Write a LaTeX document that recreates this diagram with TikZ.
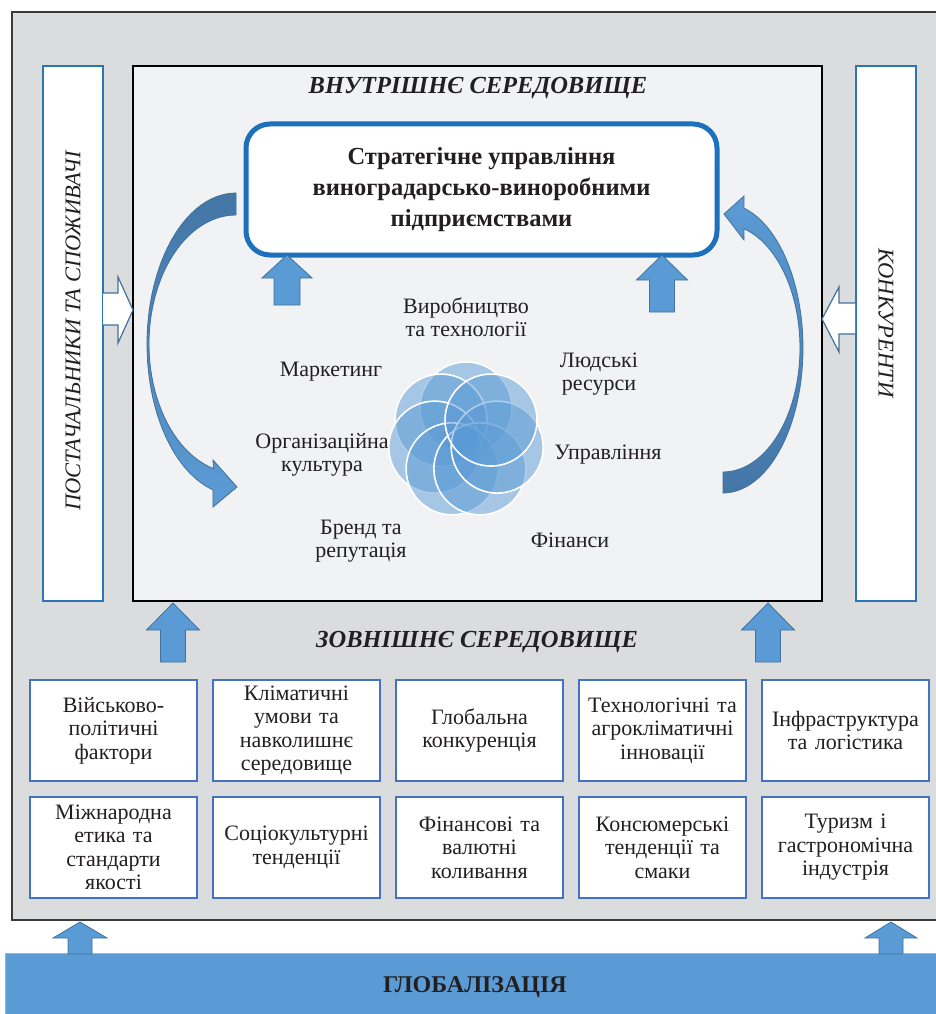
\documentclass[tikz,border=0pt]{standalone}
\usepackage{fontspec}
\setmainfont{Liberation Serif}
\usetikzlibrary{positioning,calc}

\definecolor{outergrey}{HTML}{DBDCDE}
\definecolor{innergrey}{HTML}{F1F2F4}
\definecolor{framegrey}{HTML}{3A3A3A}
\definecolor{arrowblue}{HTML}{5B9BD5}
\definecolor{arrowedge}{HTML}{41719C}
\definecolor{curvedark}{HTML}{4476A6}
\definecolor{sideblue}{HTML}{2E75B6}
\definecolor{factorblue}{HTML}{4472C4}
\definecolor{stratblue}{HTML}{1C70BC}
\definecolor{inkblack}{HTML}{231F20}

\tikzset{
  factor/.style={draw=factorblue, line width=1.2pt, fill=white, minimum width=167pt,
    minimum height=101pt, text width=164pt, align=center, inner sep=0pt,
    font=\fontsize{22}{23.5}\selectfont, text=inkblack},
  sidebox/.style={draw=sideblue, line width=1.2pt, fill=white, minimum width=60pt,
    minimum height=535pt, inner sep=0pt},
  stratbox/.style={draw=stratblue, line width=5pt, fill=white, rounded corners=24pt,
    minimum width=471pt, minimum height=131pt, align=center, text=inkblack,
    font=\bfseries\fontsize{24.5}{31}\selectfont},
  blockarrow/.style={fill=arrowblue, draw=arrowedge, line width=0.8pt},
  hollowarrow/.style={fill=white, draw=arrowedge, line width=1.2pt},
  curvearrow/.style={draw=arrowedge, line width=0.8pt},
  petal/.style={fill=arrowblue, fill opacity=0.5, draw=white, line width=1.6pt},
  area/.style={font=\fontsize{22}{23.5}\selectfont, align=center, text=inkblack},
  heading/.style={font=\bfseries\itshape\fontsize{24.5}{28}\selectfont, text=inkblack},
  sidetext/.style={font=\itshape\fontsize{22.5}{26}\selectfont, text=inkblack}
}

%% block arrow pointing up: x, tip y, bottom y, shaft half width, head half width, head base y
\newcommand{\blockup}[6]{%
  \draw[blockarrow] (#1,#2) -- (#1+#5,#6) -- (#1+#4,#6) -- (#1+#4,#3)
    -- (#1-#4,#3) -- (#1-#4,#6) -- (#1-#5,#6) -- cycle;}

\begin{document}
\begin{tikzpicture}[x=1pt,y=-1pt]
  \useasboundingbox (0,0) rectangle (935,1014);

  %% external environment frame
  \draw[fill=outergrey, draw=framegrey, line width=1.5pt] (12,12) rectangle (960,920);

  \node[sidebox] (supp) at (73,333.5) {};
  \node[sidebox] (comp) at (886,333.5) {};
  \node[sidetext, rotate=90] (supptext) at (73,331) {ПОСТАЧАЛЬНИКИ ТА СПОЖИВАЧІ};
  \node[sidetext, rotate=-90] (comptext) at (886,323) {КОНКУРЕНТИ};

  %% internal environment
  \node[draw=black, fill=innergrey, line width=1.5pt, minimum width=689pt,
    minimum height=535pt, inner sep=0pt] (inner) at (477.5,333.5) {};
  \node[heading] (intitle) at (478,88) {ВНУТРІШНЄ СЕРЕДОВИЩЕ};

  %% hollow arrows from the side boxes
  \draw[hollowarrow] (103,293) -- (118,293) -- (118,277) -- (133,310)
    -- (118,343) -- (118,325) -- (103,325);
  \draw[hollowarrow] (855,303) -- (839,303) -- (839,287) -- (822,319)
    -- (839,352) -- (839,334) -- (855,334);

  \node[stratbox] (strat) at (481.5,189.5)
    {Стратегічне управління\\виноградарсько-виноробними\\підприємствами};

  \blockup{287}{255}{305}{13}{25}{278}
  \blockup{662}{255}{312}{12.5}{25.5}{280}

  %% curved arrows round the flower
  \draw[curvearrow, top color=curvedark, bottom color=arrowblue]
    plot[domain=-90:-255, samples=50] ({236+89*cos(\x)},{344+151*sin(\x)})
    -- (213,507) -- (237,487) -- (213,460)
    -- plot[domain=-255:-90, samples=50] ({236+87*cos(\x)},{344+129*sin(\x)}) -- cycle;
  \draw[curvearrow, top color=arrowblue, bottom color=curvedark]
    plot[domain=90:-74.8, samples=50] ({723+80*cos(\x)},{348+145*sin(\x)})
    -- (744,196) -- (724,214) -- (744,240)
    -- plot[domain=-74.2:90, samples=50] ({723+77*cos(\x)},{348+124*sin(\x)}) -- cycle;

  %% flower of seven circles
  \coordinate (core) at (466,440);
  \foreach \k in {0,...,6}{
    \draw[petal] ($(core)+(90+\k*360/7:32pt)$) circle[radius=46pt];
  }

  \node[area] (prod) at (466,317) {Виробництво\\та технології};
  \node[area] (hr) at (599,374) {Людські\\ресурси};
  \node[area] (mgmt) at (608,455) {Управління};
  \node[area] (fin) at (570,540) {Фінанси};
  \node[area] (brand) at (361,541) {Бренд та\\репутація};
  \node[area] (culture) at (322,455) {Організаційна\\культура};
  \node[area] (mkt) at (331,372) {Маркетинг};

  \blockup{173}{603}{662}{12.5}{26.5}{630}
  \blockup{768}{603}{662}{12.5}{26.5}{630}
  \node[heading] (outtitle) at (477,642) {ЗОВНІШНЄ СЕРЕДОВИЩЕ};

  %% external factors
  \foreach \txt [count=\i] in {{Військово-\\політичні\\фактори},
      {Кліматичні\\умови та\\навколишнє\\середовище},{Глобальна\\конкуренція},
      {Технологічні та\\агрокліматичні\\інновації},{Інфраструктура\\та логістика}}
    \node[factor] (top\i) at ({113.5+(\i-1)*183},730.5) {\txt};
  \foreach \txt [count=\i] in {{Міжнародна\\етика та\\стандарти\\якості},
      {Соціокультурні\\тенденції},{Фінансові та\\валютні\\коливання},
      {Консюмерські\\тенденції та\\смаки},{Туризм і\\гастрономічна\\індустрія}}
    \node[factor] (bot\i) at ({113.5+(\i-1)*183},847.5) {\txt};

  %% globalisation
  \draw[fill=arrowblue, draw=arrowblue!70!white, line width=0.8pt] (5,953) rectangle (960,1030);
  \node[font=\bfseries\fontsize{24}{26}\selectfont, text=inkblack] (glob) at (475,987) {ГЛОБАЛІЗАЦІЯ};
  \blockup{80}{922}{954}{12}{27}{938}
  \blockup{891}{922}{954}{12}{26}{938}
\end{tikzpicture}
\end{document}
